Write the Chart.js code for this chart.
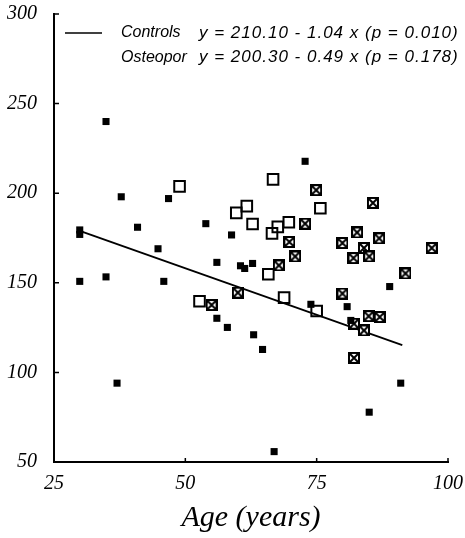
<!DOCTYPE html>
<html>
<head>
<meta charset="utf-8">
<script src="https://cdn.jsdelivr.net/npm/chart.js@4"></script>
<style>
  body { margin: 0; background: #fff; }
  #wrap { width: 465px; height: 538px; position: relative; }
</style>
</head>
<body>
<div id="wrap"><canvas id="chart"></canvas></div>
<script>
// values: [age, value]
const controls = [
  [34.9, 240], [37.8, 198], [46.8, 197], [29.9, 179.5], [29.9, 177],
  [40.9, 181], [44.8, 169], [53.9, 183], [58.8, 176.7], [56.0, 161.4],
  [60.5, 159.5], [61.3, 158], [62.8, 160.8], [29.9, 150.8], [34.9, 153.3],
  [45.9, 150.8], [56.0, 130.2], [58.0, 125.1], [63.0, 121], [64.7, 112.8],
  [37.0, 94], [72.8, 217.8], [73.9, 138], [80.8, 136.7], [88.9, 147.9],
  [91.0, 94], [85.0, 77.8], [66.9, 55.8], [81.5, 129]
]
const osteoOpen = [
  [48.9, 203.8], [59.7, 189], [61.7, 192.8], [62.8, 182.8], [66.7, 207.7],
  [75.7, 191.6], [66.5, 177.6], [67.6, 181.2], [69.7, 183.8], [65.8, 154.8],
  [52.7, 139.7], [68.8, 141.7], [75.0, 134.3]
]
const osteoCross = [
  [60.0, 144.5], [55.0, 137.6], [74.9, 201.7], [85.7, 194.6], [72.8, 183],
  [69.8, 172.8], [70.9, 164.7], [67.8, 159.7], [79.9, 172.2], [82.7, 178.1],
  [86.9, 174.8], [84.0, 169.4], [82.0, 163.8], [85.0, 164.7], [96.9, 169.4],
  [91.9, 155.2], [79.9, 144], [82.1, 127.2], [84.0, 123.4], [84.9, 131.4],
  [87.0, 130.9], [82.1, 108.1]
]
// regression line for controls, end points as seen in the picture
const controlsFit = [[29.5, 179.4], [91.3, 115.2]]

const xTicks = [25, 50, 75, 100]
const yTicks = [50, 100, 150, 200, 250, 300]

const legendRows = [
  ['Controls', 'y = 210.10 - 1.04 x (p = 0.010)'],
  ['Osteopor', 'y = 200.30 - 0.49 x (p = 0.178)']
]

function toPoints(arr) {
  return arr.map(p => ({ x: p[0], y: p[1] }))
}

// square with an x inside
function crossSquare() {
  const n = 12
  const c = document.createElement('canvas')
  c.width = n
  c.height = n
  const g = c.getContext('2d')
  g.fillStyle = '#fff'
  g.fillRect(0, 0, n, n)
  g.strokeStyle = '#000'
  g.lineWidth = 2
  g.strokeRect(1, 1, n - 2, n - 2)
  g.beginPath()
  g.moveTo(2, 2); g.lineTo(n - 2, n - 2)
  g.moveTo(n - 2, 2); g.lineTo(2, n - 2)
  g.stroke()
  return c
}

const extras = {
  id: 'extras',
  afterDraw(chart) {
    const ctx = chart.ctx
    const xs = chart.scales.x
    const ys = chart.scales.y
    const a = chart.chartArea
    ctx.save()
    ctx.strokeStyle = '#000'
    ctx.lineWidth = 1.5
    // inward tick marks
    ctx.beginPath()
    yTicks.forEach(v => {
      const py = ys.getPixelForValue(v)
      ctx.moveTo(a.left, py); ctx.lineTo(a.left + 5, py)
    })
    xTicks.forEach(v => {
      const px = xs.getPixelForValue(v)
      ctx.moveTo(px, a.bottom); ctx.lineTo(px, a.bottom - 4)
    })
    ctx.stroke()
    // legend
    ctx.beginPath()
    ctx.moveTo(a.left + 11, 33); ctx.lineTo(a.left + 48, 33)
    ctx.stroke()
    ctx.fillStyle = '#000'
    ctx.textBaseline = 'middle'
    legendRows.forEach((r, i) => {
      const y = 33 + i * 24.5
      ctx.font = 'italic 16px "Liberation Sans"'
      ctx.letterSpacing = '0px'
      ctx.fillText(r[0], a.left + 67, y)
      ctx.font = 'italic 17px "Liberation Sans"'
      ctx.letterSpacing = '1px'
      ctx.fillText(r[1], a.left + 145, y)
    })
    ctx.restore()
  }
}

const tickFont = { family: 'Liberation Serif', style: 'italic', size: 20 }

new Chart(document.getElementById('chart'), {
  type: 'scatter',
  data: {
    datasets: [
      {
        label: 'Controls',
        data: toPoints(controls),
        pointStyle: 'rect',
        pointRadius: 5,
        backgroundColor: '#000',
        borderColor: '#000',
        borderWidth: 0,
        order: 1
      },
      {
        label: 'Osteopor',
        data: toPoints(osteoOpen),
        pointStyle: 'rect',
        pointRadius: 7.5,
        backgroundColor: 'rgba(0,0,0,0)',
        borderColor: '#000',
        borderWidth: 2,
        order: 2
      },
      {
        label: 'Osteopor (x)',
        data: toPoints(osteoCross),
        pointStyle: crossSquare(),
        order: 3
      },
      {
        type: 'line',
        label: 'Controls fit',
        data: toPoints(controlsFit),
        borderColor: '#000',
        borderWidth: 1.8,
        pointRadius: 0,
        fill: false,
        order: 10
      }
    ]
  },
  options: {
    responsive: true,
    maintainAspectRatio: false,
    animation: false,
    layout: { padding: { top: 14, right: 17, left: 0, bottom: 0 } },
    plugins: {
      legend: { display: false },
      tooltip: { enabled: false }
    },
    scales: {
      x: {
        type: 'linear',
        min: 25,
        max: 100,
        afterFit: s => { s.height = 76; s.paddingLeft = 0; s.paddingRight = 0 },
        afterBuildTicks: s => { s.ticks = xTicks.map(v => ({ value: v })) },
        grid: { display: false, drawTicks: false },
        border: { color: '#000', width: 2 },
        ticks: { color: '#000', font: tickFont, padding: 10, maxRotation: 0 },
        title: {
          display: true,
          text: 'Age (years)',
          color: '#000',
          font: { family: 'Liberation Serif', style: 'italic', size: 30 },
          padding: { top: 0, bottom: 2 }
        }
      },
      y: {
        min: 50,
        max: 300,
        afterFit: s => { s.width = 54; s.paddingTop = 0; s.paddingBottom = 0 },
        afterBuildTicks: s => { s.ticks = yTicks.map(v => ({ value: v })) },
        grid: { display: false, drawTicks: false },
        border: { color: '#000', width: 2 },
        ticks: { color: '#000', font: tickFont, padding: 17 }
      }
    }
  },
  plugins: [extras]
})
</script>
</body>
</html>
